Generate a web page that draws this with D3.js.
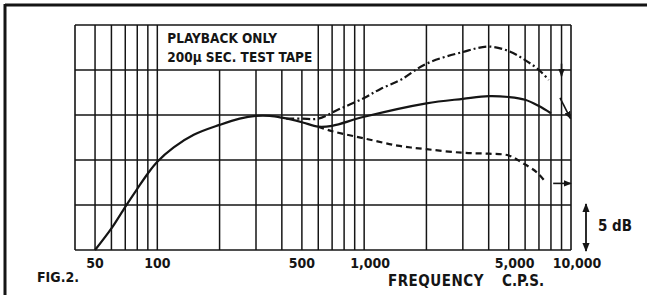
<!DOCTYPE html>
<html>
<head>
<meta charset="utf-8">
<script src="https://cdn.jsdelivr.net/npm/d3@7"></script>
<style>
  body { margin: 0; background: #fff; }
  svg text { font-family: 'Liberation Sans Narrow', 'DejaVu Sans Condensed', sans-serif; font-weight: bold; fill: #151515; }
</style>
</head>
<body>
<svg id="chart"></svg>
<script>
// grid lines of the log paper
const freqGrid = [50, 60, 70, 80, 90, 100, 200, 300, 400, 500, 600, 700, 800, 900,
  1000, 2000, 3000, 4000, 5000, 6000, 7000, 8000, 9000];
const dbGrid = [0, 5, 10, 15, 20, 25];
const tickFreqs = [50, 100, 500, 1000, 5000, 10000];
const tickLabels = ['50', '100', '500', '1,000', '5,000', '10,000'];

// curves, [freq, dB]
const solid = [[50, 0], [60, 2.4], [70, 4.8], [80, 6.8], [90, 8.5], [100, 9.8], [120, 11.4],
  [150, 12.8], [200, 13.9], [250, 14.6], [300, 14.9], [350, 14.9], [400, 14.7], [500, 14.2],
  [600, 13.7], [700, 13.8], [1000, 14.8], [2000, 16.3], [3000, 16.8], [4000, 17.1],
  [5000, 17.0], [6000, 16.7], [7000, 16.0], [8000, 15.2]];
const dashDot = [[420, 14.6], [500, 14.6], [600, 14.6], [750, 15.6], [1000, 16.9], [1200, 17.9],
  [1500, 18.9], [2000, 20.7], [3000, 22.0], [4000, 22.6], [5000, 22.1], [6000, 21.1],
  [7000, 20.0], [7800, 18.9]];
const dashed = [[600, 13.7], [700, 13.2], [1000, 12.4], [1450, 11.6], [2000, 11.2], [3000, 10.8],
  [4000, 10.7], [5000, 10.5], [5800, 9.7], [6860, 8.6], [7500, 7.6]];

// little pointer arrows at the right end, [freq1, dB1, freq2, dB2]
const arrows = [[9000, 20.7, 9000, 19.3], [8850, 16.9, 9950, 14.6], [8200, 7.4, 10000, 7.4]];

const width = 647;
const height = 295;

const svg = d3.select('#chart')
  .attr('width', width)
  .attr('height', height);

const x = d3.scaleLog()
  .domain([40, 10000])
  .range([75, 571]);

const y = d3.scaleLinear()
  .domain([0, 25])
  .range([250, 25]);

const ink = '#151515';

svg.append('defs').append('marker')
  .attr('id', 'head')
  .attr('viewBox', '0 0 10 10')
  .attr('refX', 9).attr('refY', 5)
  .attr('markerWidth', 5).attr('markerHeight', 5)
  .attr('markerUnits', 'strokeWidth')
  .attr('orient', 'auto-start-reverse')
  .append('path')
  .attr('d', 'M0,1 L10,5 L0,9 Z')
  .attr('fill', ink);

// outer frame (top and left only visible)
svg.append('line').attr('x1', 5).attr('x2', width).attr('y1', 5).attr('y2', 5)
  .attr('stroke', ink).attr('stroke-width', 3);
svg.append('line').attr('x1', 5).attr('x2', 5).attr('y1', 4).attr('y2', height)
  .attr('stroke', ink).attr('stroke-width', 3);

// vertical grid, the ones under the caption box stop at 20 dB
svg.selectAll('.vgrid')
  .data(freqGrid)
  .enter()
  .append('line')
  .attr('x1', d => x(d)).attr('x2', d => x(d))
  .attr('y1', d => (d > 100 && d < 600) ? y(20) : y(25))
  .attr('y2', y(0))
  .attr('stroke', ink)
  .attr('stroke-width', 1.5);

svg.selectAll('.hgrid')
  .data(dbGrid)
  .enter()
  .append('line')
  .attr('x1', x(40)).attr('x2', x(10000))
  .attr('y1', d => y(d)).attr('y2', d => y(d))
  .attr('stroke', ink)
  .attr('stroke-width', 1.5);

svg.selectAll('.border')
  .data([40, 10000])
  .enter()
  .append('line')
  .attr('x1', d => x(d)).attr('x2', d => x(d))
  .attr('y1', y(25)).attr('y2', y(0))
  .attr('stroke', ink)
  .attr('stroke-width', 1.6);

// caption in the box
svg.append('text')
  .attr('x', x(100) + 10).attr('y', 43)
  .style('font-size', '13.5px')
  .text('PLAYBACK  ONLY');
svg.append('text')
  .attr('x', x(100) + 10).attr('y', 62)
  .style('font-size', '13.5px')
  .text('200\u00b5 SEC. TEST TAPE');

const lineFn = d3.line()
  .x(d => x(d[0]))
  .y(d => y(d[1]))
  .curve(d3.curveCatmullRom.alpha(0.5));

const curves = [
  {data: solid, dash: null},
  {data: dashDot, dash: '8,3,2,3'},
  {data: dashed, dash: '6,4'}
];

curves.forEach(c => {
  svg.append('path')
    .datum(c.data)
    .attr('fill', 'none')
    .attr('stroke', ink)
    .attr('stroke-width', 2.2)
    .attr('stroke-dasharray', c.dash)
    .attr('d', lineFn);
});

arrows.forEach(a => {
  svg.append('line')
    .attr('x1', x(a[0])).attr('y1', y(a[1]))
    .attr('x2', x(a[2])).attr('y2', y(a[3]))
    .attr('stroke', ink)
    .attr('stroke-width', 1.6)
    .attr('marker-end', 'url(#head)');
});

// 5 dB scale arrow
svg.append('line')
  .attr('x1', 586).attr('x2', 586)
  .attr('y1', y(5) - 1).attr('y2', y(0) + 1)
  .attr('stroke', ink)
  .attr('stroke-width', 1.8)
  .attr('marker-start', 'url(#head)')
  .attr('marker-end', 'url(#head)');
svg.append('text')
  .attr('x', 598).attr('y', 231)
  .style('font-size', '15px')
  .text('5 dB');

svg.selectAll('.tick-label')
  .data(tickFreqs)
  .enter()
  .append('text')
  .attr('x', (d, i) => x(d) + (tickLabels[i].includes(',') ? 6 : 0))
  .attr('y', 268)
  .attr('text-anchor', 'middle')
  .style('font-size', '14px')
  .text((d, i) => tickLabels[i]);

svg.append('text')
  .attr('x', 37).attr('y', 282)
  .style('font-size', '14px')
  .text('FIG.2.');

svg.append('text')
  .attr('x', 388).attr('y', 286)
  .style('font-size', '15px')
  .style('letter-spacing', '0.5px')
  .text('FREQUENCY');
svg.append('text')
  .attr('x', 502).attr('y', 286)
  .style('font-size', '15px')
  .text('C.P.S.');
</script>
</body>
</html>
